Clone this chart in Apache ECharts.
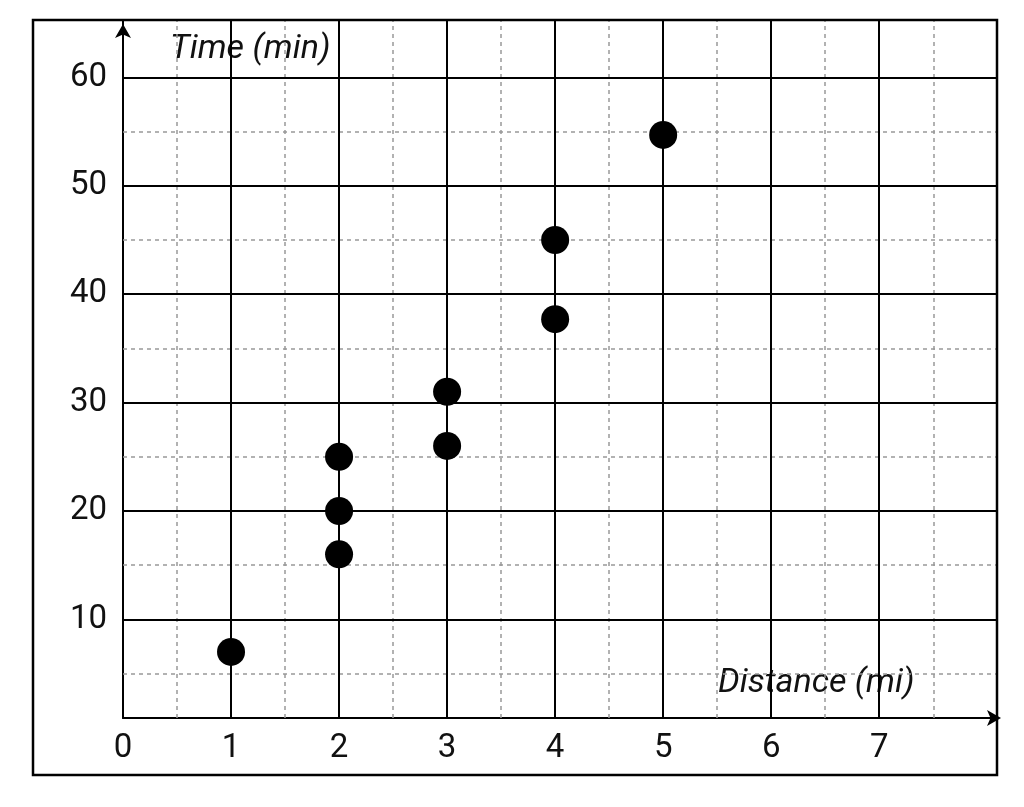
<!DOCTYPE html><html><head><meta charset="utf-8">
<script src="https://cdn.jsdelivr.net/npm/echarts@6/dist/echarts.min.js"></script>
<style>html,body{margin:0;background:#fff}#c{width:1024px;height:807px}</style></head><body><div id="c"></div>
<script>
const points=[[1,7],[2,16],[2,20],[2,25],[3,26],[3,31],[4,37.7],[4,45],[5,54.7]];
const xTicks=[0,1,2,3,4,5,6,7];
const yTicks=[10,20,30,40,50,60];
const xMajor=[1,2,3,4,5,6,7];
const xMinor=[0.5,1.5,2.5,3.5,4.5,5.5,6.5,7.5];
const yMinor=[5,15,25,35,45,55];
const chart=echarts.init(document.getElementById('c'));
const solid={color:'#000',width:2,type:'solid'};
const dash={color:'#999',width:1.5,type:[4,4]};
const ml=(arr,key,style)=>({symbol:'none',silent:true,label:{show:false},lineStyle:style,data:arr.map(v=>({[key]:v}))});
chart.setOption({
 animation:false,
 grid:{left:123,right:27,top:20,bottom:89},
 xAxis:{type:'value',min:0,max:8.09,splitLine:{show:false},axisTick:{show:false},
  axisLine:{lineStyle:{color:'#000',width:2},symbol:['none','arrow'],symbolSize:[12,14],symbolOffset:[0,4]},
  axisLabel:{customValues:xTicks,color:'#111',fontSize:33,fontFamily:'Roboto',margin:14}},
 yAxis:{type:'value',min:0.9,max:65.3,splitLine:{show:false},axisTick:{show:false},
  axisLine:{show:true,lineStyle:{color:'#000',width:2},symbol:['none','arrow'],symbolSize:[12,14],symbolOffset:[0,-4]},
  axisLabel:{customValues:yTicks,color:'#111',fontSize:33,fontFamily:'Roboto',margin:16}},
 graphic:[
  {type:'rect',shape:{x:33,y:20,width:964,height:755},style:{fill:'none',stroke:'#000',lineWidth:2.5},z:100},
  {type:'text',left:170,top:32,style:{text:'Time (min)',font:'italic 34px Roboto',fill:'#111'}},
  {type:'text',left:718,top:666,style:{text:'Distance (mi)',font:'italic 34px Roboto',fill:'#111'}}
 ],
 series:[
  {type:'line',data:[],markLine:ml(xMinor,'xAxis',dash),z:1},
  {type:'line',data:[],markLine:ml(yMinor,'yAxis',dash),z:1},
  {type:'line',data:[],markLine:ml(xMajor,'xAxis',solid),z:2},
  {type:'line',data:[],markLine:ml(yTicks,'yAxis',solid),z:2},
  {type:'scatter',data:points,symbolSize:28,itemStyle:{color:'#000',opacity:1},z:5}
 ]
});
</script></body></html>
